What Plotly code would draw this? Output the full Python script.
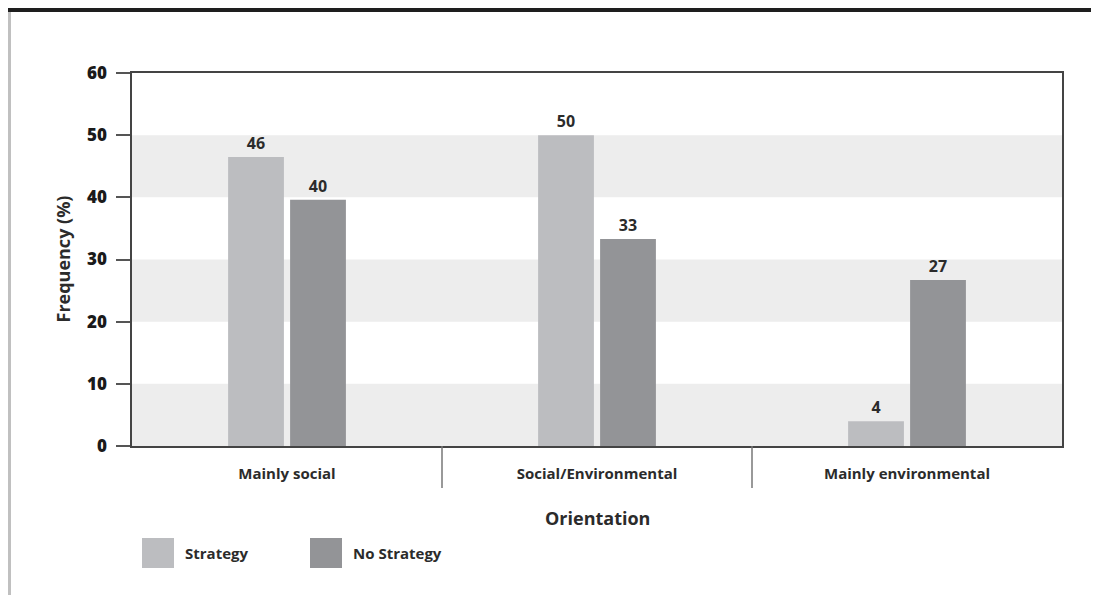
import plotly.graph_objects as go

# data
categories = ['Mainly social', 'Social/Environmental', 'Mainly environmental']
strategy = [46.5, 50.0, 4.0]
no_strategy = [39.6, 33.3, 26.7]
strategy_labels = ['46', '50', '4']
no_strategy_labels = ['40', '33', '27']
y_ticks = [0, 10, 20, 30, 40, 50, 60]

W, H = 1099, 595
OFF = 8                           # browser body margin
L, R, T, B = 132, 1062, 73, 446   # plot area in page pixels


def px(x):
    return (x - L) / (R - L)


def py(y):
    return (B - y) / (B - T)


FONT = 'Open Sans'
DARK = '#2b2b2b'
C_STRAT = '#bcbdc0'
C_NOSTRAT = '#939497'

fig = go.Figure()
fig.add_trace(go.Bar(
    x=categories, y=strategy, name='Strategy',
    marker=dict(color=C_STRAT, line=dict(width=0)),
    text=strategy_labels, textposition='outside', cliponaxis=False,
    textfont=dict(family=FONT, size=16, color=DARK, weight=700),
))
fig.add_trace(go.Bar(
    x=categories, y=no_strategy, name='No Strategy',
    marker=dict(color=C_NOSTRAT, line=dict(width=0)),
    text=no_strategy_labels, textposition='outside', cliponaxis=False,
    textfont=dict(family=FONT, size=16, color=DARK, weight=700),
))

shapes = []
# grey bands
for lo in (0, 20, 40):
    shapes.append(dict(type='rect', xref='paper', yref='y', x0=0, x1=1, y0=lo, y1=lo + 10,
                       fillcolor='#ededed', line=dict(width=0), layer='below'))
# category separators below the axis
for xs in (0.5, 1.5):
    shapes.append(dict(type='line', xref='x', yref='paper', x0=xs, x1=xs, y0=0, y1=py(488),
                       line=dict(color='#777777', width=1.5)))
# page decoration: top black rule, left grey rule
shapes.append(dict(type='rect', xref='paper', yref='paper', x0=px(8), x1=px(W + 5),
                   y0=py(12), y1=py(7), fillcolor='#1e1e1e', line=dict(width=0)))
shapes.append(dict(type='rect', xref='paper', yref='paper', x0=px(8), x1=px(11),
                   y0=py(600), y1=py(12), fillcolor='#c0c0c0', line=dict(width=0)))
# legend swatches
shapes.append(dict(type='rect', xref='paper', yref='paper', x0=px(142), x1=px(174),
                   y0=py(568), y1=py(538), fillcolor=C_STRAT, line=dict(width=0)))
shapes.append(dict(type='rect', xref='paper', yref='paper', x0=px(310), x1=px(342),
                   y0=py(568), y1=py(538), fillcolor=C_NOSTRAT, line=dict(width=0)))

annotations = [
    dict(text='Orientation', xref='paper', yref='paper', x=0.5, y=py(518), showarrow=False,
         yanchor='middle', font=dict(family=FONT, size=18, color=DARK, weight=700)),
    dict(text='Frequency (%)', xref='paper', yref='paper', x=px(62), y=0.5, textangle=-90,
         showarrow=False, xanchor='center', yanchor='middle',
         font=dict(family=FONT, size=18, color=DARK, weight=700)),
    dict(text='Strategy', xref='paper', yref='paper', x=px(183), y=py(553), xanchor='left',
         yanchor='middle', showarrow=False, font=dict(family=FONT, size=15, color=DARK, weight=700)),
    dict(text='No Strategy', xref='paper', yref='paper', x=px(351), y=py(553), xanchor='left',
         yanchor='middle', showarrow=False, font=dict(family=FONT, size=15, color=DARK, weight=700)),
]

fig.update_layout(
    width=W - OFF, height=H - OFF, autosize=False,
    margin=dict(l=L - OFF, r=W - R, t=T - OFF, b=H - B, pad=0),
    plot_bgcolor='white', paper_bgcolor='white',
    barmode='group', bargap=0.6, bargroupgap=0.1,
    showlegend=False,
    shapes=shapes, annotations=annotations,
    font=dict(family=FONT, color=DARK),
)
fig.update_xaxes(
    showline=True, linecolor='#444444', linewidth=1.5, mirror=True,
    ticks='', showgrid=False,
    tickfont=dict(family=FONT, size=15, color=DARK, weight=700), ticklabelstandoff=13,
)
fig.update_yaxes(
    range=[0, 60], tickvals=y_ticks, showgrid=False, zeroline=False,
    showline=True, linecolor='#444444', linewidth=1.5, mirror=True,
    ticks='outside', ticklen=14, tickcolor='#555555', tickwidth=1.5,
    tickfont=dict(family=FONT, size=17, color='#1a1a1a', weight=800), ticklabelstandoff=6,
)

fig.write_html('out.html')
